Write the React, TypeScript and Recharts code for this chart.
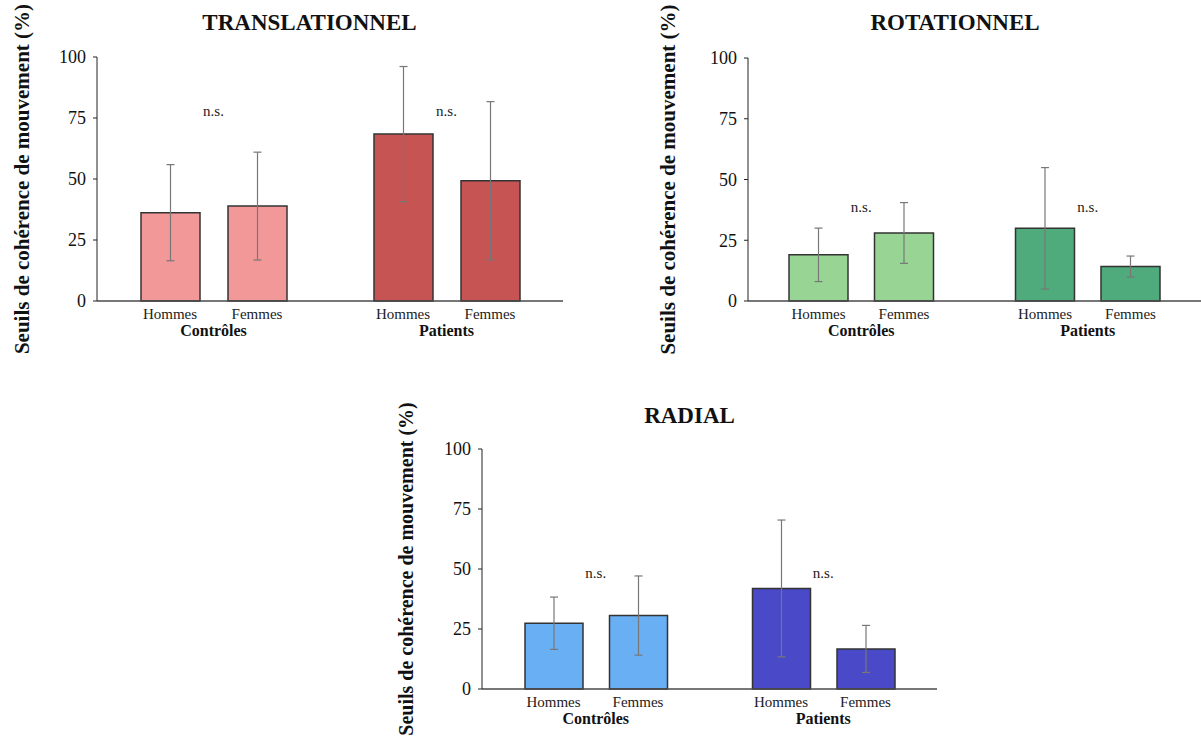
import React from "react";
import { BarChart, Bar, XAxis, YAxis, ErrorBar, Cell, ReferenceDot } from "recharts";

const groups = ["Contrôles", "Patients"];
const sexes = ["Hommes", "Femmes"];
const yTicks = [0, 25, 50, 75, 100];
const yLabel = "Seuils de cohérence de mouvement (%)";

// TRANSLATIONNEL
const transHommes = [36.2, 68.4];
const transHommesErr = [19.7, 27.7];
const transFemmes = [38.9, 49.3];
const transFemmesErr = [22.1, 32.4];
const transNs = [78, 78];

// ROTATIONNEL
const rotHommes = [19.0, 29.9];
const rotHommesErr = [11.0, 25.0];
const rotFemmes = [28.0, 14.2];
const rotFemmesErr = [12.5, 4.3];
const rotNs = [39, 39];

// RADIAL
const radHommes = [27.4, 41.9];
const radHommesErr = [10.9, 28.5];
const radFemmes = [30.6, 16.7];
const radFemmesErr = [16.5, 9.8];
const radNs = [48.5, 48.5];

const FONT = "'Liberation Serif', 'Times New Roman', serif";

function buildRows(h: number[], hErr: number[], f: number[], fErr: number[]) {
  return groups.map((g, i) => ({
    group: g,
    hommes: h[i],
    hommesErr: hErr[i],
    femmes: f[i],
    femmesErr: fErr[i],
  }));
}

// two sex labels under the bars + bold group name below
function GroupTick({ x, y, payload, shift }: any) {
  return (
    <g>
      <text x={x - shift} y={y + 18} textAnchor="middle" fontSize={15} fontFamily={FONT} fill="#222">
        {sexes[0]}
      </text>
      <text x={x + shift} y={y + 18} textAnchor="middle" fontSize={15} fontFamily={FONT} fill="#222">
        {sexes[1]}
      </text>
      <text x={x} y={y + 35} textAnchor="middle" fontSize={16} fontWeight="bold" fontFamily={FONT} fill="#111">
        {payload.value}
      </text>
    </g>
  );
}

interface PanelProps {
  title: string;
  titleX: number;
  titleBaseline: number;
  left: number;
  top: number;
  width: number;
  height: number;
  yAxisWidth: number;
  marginTop: number;
  xAxisHeight: number;
  barSize: number;
  barGap: number;
  labelOffset: number;
  labelSize: number;
  rows: any[];
  ns: number[];
  colors: string[];
}

function Panel(p: PanelProps) {
  const shift = (p.barSize + p.barGap) / 2;
  return (
    <>
      <div
        style={{
          position: "absolute",
          left: p.titleX - 200,
          top: p.titleBaseline - 19.3,
          width: 400,
          textAlign: "center",
          fontFamily: FONT,
          fontWeight: "bold",
          fontSize: 23,
          lineHeight: "23px",
          color: "#111",
        }}
      >
        {p.title}
      </div>
      <div style={{ position: "absolute", left: p.left, top: p.top }}>
        <BarChart
          width={p.width}
          height={p.height}
          data={p.rows}
          margin={{ top: p.marginTop, right: 0, bottom: 0, left: 0 }}
          barSize={p.barSize}
          barGap={p.barGap}
          style={{ overflow: "visible" }}
        >
          <XAxis
            dataKey="group"
            height={p.xAxisHeight}
            interval={0}
            tickLine={false}
            tickSize={0}
            tickMargin={0}
            axisLine={{ stroke: "#4a4a4a", strokeWidth: 1.5 }}
            tick={(props: any) => <GroupTick {...props} shift={shift} />}
          />
          <YAxis
            width={p.yAxisWidth}
            domain={[0, 100]}
            ticks={yTicks}
            tickSize={4}
            tickMargin={7}
            axisLine={{ stroke: "#222" }}
            tickLine={{ stroke: "#222" }}
            tick={{ fill: "#111", fontSize: 18, fontFamily: FONT }}
            label={{
              value: yLabel,
              angle: -90,
              position: "insideLeft",
              offset: p.labelOffset,
              style: { textAnchor: "middle", fontWeight: "bold", fontSize: p.labelSize, fontFamily: FONT, fill: "#111" },
            }}
          />
          <Bar dataKey="hommes" stroke="#333" strokeWidth={1.5} isAnimationActive={false}>
            {p.rows.map((_, i) => (
              <Cell key={i} fill={p.colors[i]} />
            ))}
            <ErrorBar dataKey="hommesErr" width={4} stroke="#777" strokeWidth={1.2} />
          </Bar>
          <Bar dataKey="femmes" stroke="#333" strokeWidth={1.5} isAnimationActive={false}>
            {p.rows.map((_, i) => (
              <Cell key={i} fill={p.colors[i]} />
            ))}
            <ErrorBar dataKey="femmesErr" width={4} stroke="#777" strokeWidth={1.2} />
          </Bar>
          {groups.map((g, i) => (
            <ReferenceDot
              key={g}
              x={g}
              y={p.ns[i]}
              r={0}
              fill="none"
              stroke="none"
              label={{ value: "n.s.", position: "center", fontSize: 15, fontFamily: FONT, fill: "#222" }}
            />
          ))}
        </BarChart>
      </div>
    </>
  );
}

export default function App() {
  return (
    <div
      style={{
        position: "absolute",
        left: 0,
        top: 0,
        width: 1201,
        height: 742,
        overflow: "hidden",
        background: "#fff",
      }}
    >
      <Panel
        title="TRANSLATIONNEL"
        titleX={309.5}
        titleBaseline={30}
        left={0}
        top={0}
        width={563}
        height={370}
        yAxisWidth={97}
        marginTop={57}
        xAxisHeight={69}
        barSize={59}
        barGap={28}
        labelOffset={22}
        labelSize={21}
        rows={buildRows(transHommes, transHommesErr, transFemmes, transFemmesErr)}
        ns={transNs}
        colors={["#f29899", "#c55452"]}
      />
      <Panel
        title="ROTATIONNEL"
        titleX={955}
        titleBaseline={30}
        left={640}
        top={0}
        width={561}
        height={370}
        yAxisWidth={108}
        marginTop={58}
        xAxisHeight={69}
        barSize={59}
        barGap={26.5}
        labelOffset={28}
        labelSize={21}
        rows={buildRows(rotHommes, rotHommesErr, rotFemmes, rotFemmesErr)}
        ns={rotNs}
        colors={["#98d594", "#4fab7b"]}
      />
      <Panel
        title="RADIAL"
        titleX={689.5}
        titleBaseline={423}
        left={380}
        top={390}
        width={557}
        height={352}
        yAxisWidth={102}
        marginTop={59}
        xAxisHeight={53}
        barSize={58}
        barGap={26.5}
        labelOffset={26}
        labelSize={20}
        rows={buildRows(radHommes, radHommesErr, radFemmes, radFemmesErr)}
        ns={radNs}
        colors={["#68aff4", "#4a49c7"]}
      />
    </div>
  );
}
